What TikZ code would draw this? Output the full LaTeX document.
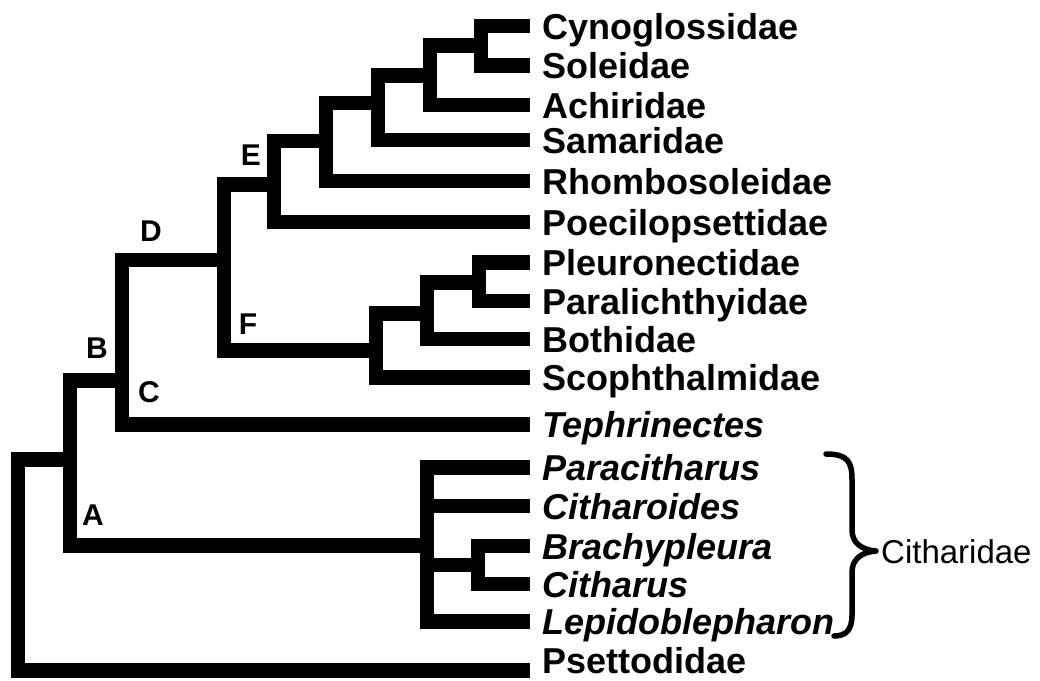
\documentclass[tikz,border=0pt]{standalone}
\usepackage{fontspec}
\setmainfont{Liberation Sans}
\begin{document}
\begin{tikzpicture}[x=1pt,y=-1pt,
  branch/.style={line width=14.5pt, line cap=butt, line join=miter},
  leaf/.style={anchor=base west, inner sep=0pt, font=\fontsize{36}{40}\selectfont\bfseries},
  leafit/.style={anchor=base west, inner sep=0pt, font=\fontsize{36}{40}\selectfont\bfseries\itshape},
  clade/.style={inner sep=0pt, font=\fontsize{30}{34}\selectfont\bfseries},
  bracepath/.style={line width=5.5pt, line cap=round, line join=round},
  group/.style={anchor=base west, inner sep=0pt, font=\fontsize{33}{37}\selectfont}]
\useasboundingbox (0,0) rectangle (1040,680);
% leaf tips
\coordinate (t1) at (530,26);
\coordinate (t2) at (530,65.5);
\coordinate (t3) at (530,105);
\coordinate (t4) at (530,140);
\coordinate (t5) at (530,181);
\coordinate (t6) at (530,222);
\coordinate (t7) at (530,262.5);
\coordinate (t8) at (530,301);
\coordinate (t9) at (530,339);
\coordinate (t10) at (530,377.5);
\coordinate (t11) at (530,424.5);
\coordinate (t12) at (530,467.5);
\coordinate (t13) at (530,506);
\coordinate (t14) at (530,546);
\coordinate (t15) at (530,584);
\coordinate (t16) at (530,621.5);
\coordinate (t17) at (530,670.5);
% leaf labels
\node[leaf] (l1) at (542,39) {Cynoglossidae};
\node[leaf] (l2) at (542,78.5) {Soleidae};
\node[leaf] (l3) at (542,118) {Achiridae};
\node[leaf] (l4) at (542,153) {Samaridae};
\node[leaf] (l5) at (542,194) {Rhombosoleidae};
\node[leaf] (l6) at (542,235) {Poecilopsettidae};
\node[leaf] (l7) at (542,275.5) {Pleuronectidae};
\node[leaf] (l8) at (542,314) {Paralichthyidae};
\node[leaf] (l9) at (542,352) {Bothidae};
\node[leaf] (l10) at (542,390.5) {Scophthalmidae};
\node[leafit] (l11) at (542,437.5) {Tephrinectes};
\node[leafit] (l12) at (542,480.5) {Paracitharus};
\node[leafit] (l13) at (542,519) {Citharoides};
\node[leafit] (l14) at (542,559) {Brachypleura};
\node[leafit] (l15) at (542,597) {Citharus};
\node[leafit] (l16) at (542,634.5) {Lepidoblepharon};
\node[leaf] (l17) at (542,673) {Psettodidae};
% internal nodes
\coordinate (n1) at (481,45.5);
\coordinate (n2) at (430,75.5);
\coordinate (n3) at (378,103);
\coordinate (n4) at (326,141);
\coordinate (nE) at (274,184.5);
\coordinate (n6) at (479,282.5);
\coordinate (n7) at (427,313.5);
\coordinate (nF) at (376,350.5);
\coordinate (nD) at (224,260);
\coordinate (nC) at (122,380.5);
\coordinate (n11) at (478,565);
\coordinate (n12) at (427,545.5);
\coordinate (nAB) at (70,459.5);
\coordinate (root) at (18,565);
% branches
\draw[branch] (t1) -| (n1) |- (t2);
\draw[branch] (n1) -| (n2) |- (t3);
\draw[branch] (n2) -| (n3) |- (t4);
\draw[branch] (n3) -| (n4) |- (t5);
\draw[branch] (n4) -| (nE) |- (t6);
\draw[branch] (t7) -| (n6) |- (t8);
\draw[branch] (n6) -| (n7) |- (t9);
\draw[branch] (n7) -| (nF) |- (t10);
\draw[branch] (nE) -| (nD) |- (nF);
\draw[branch] (nD) -| (nC) |- (t11);
\draw[branch] (t14) -| (n11) |- (t15);
\draw[branch] (t12) -| (n12) |- (t16);
\draw[branch] (n12 |- t13) -- (t13);
\draw[branch] (n12 |- n11) -- (n11);
\draw[branch] (nC) -| (nAB) |- (n12);
\draw[branch] (nAB) -| (root) |- (t17);
% clade letters
\node[clade] (labE) at (251,155) {E};
\node[clade] (labD) at (151,231) {D};
\node[clade] (labF) at (248,324) {F};
\node[clade] (labB) at (97,348) {B};
\node[clade] (labC) at (149,392) {C};
\node[clade] (labA) at (93,515) {A};
% brace and group label
\coordinate (bt) at (826,454);
\coordinate (bm) at (876,551);
\coordinate (bb) at (834,636);
\draw[bracepath] (bt) .. controls (848,454) and (852,462) .. (852,480) -- (852,530)
  .. controls (852,543) and (862,550) .. (bm)
  .. controls (862,552) and (852,559) .. (852,572) -- (852,615)
  .. controls (852,630) and (846,636) .. (bb);
\node[group] (grp) at (881,563.5) {Citharidae};
\end{tikzpicture}
\end{document}
